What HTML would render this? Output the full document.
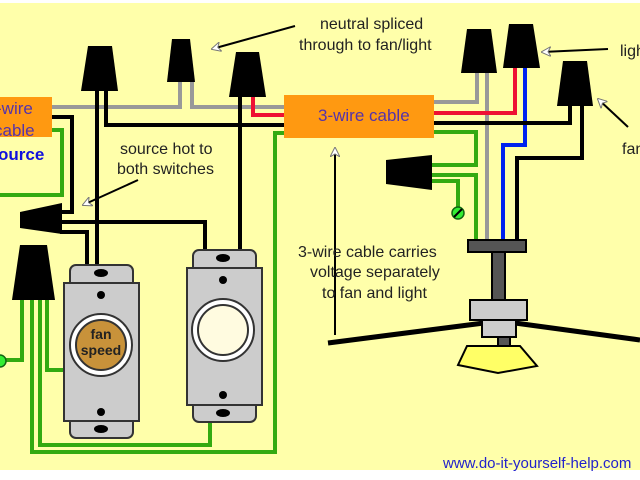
<!DOCTYPE html>
<html><head><style>
html,body{margin:0;padding:0;background:#fff;}
svg{display:block;}
text{font-family:"Liberation Sans",sans-serif;}
</style></head><body>
<svg width="640" height="480" viewBox="0 0 640 480" xmlns="http://www.w3.org/2000/svg">
<defs>
<marker id="ah" viewBox="0 0 10 10" refX="9" refY="5" markerWidth="5" markerHeight="5" orient="auto">
<path d="M10,5 L0,0 L3,5 L0,10 Z" fill="#fff" stroke="#777" stroke-width="1"/>
</marker>
</defs>
<rect x="0" y="3" width="640" height="467" fill="#ffffaa"/>
<g fill="none" stroke-width="4" stroke-linejoin="miter">
<polyline points="52,130 62,130 62,195 0,195" stroke="#33aa11"/>
<polyline points="22,300 22,360 0,360" stroke="#33aa11"/>
<polyline points="32,300 32,452 275,452 275,133 285,133" stroke="#33aa11"/>
<polyline points="40,300 40,445 210,445 210,422" stroke="#33aa11"/>
<polyline points="47,300 47,370 64,370" stroke="#33aa11"/>
<polyline points="52,107 180,107 180,82" stroke="#999"/>
<polyline points="192,82 192,107 285,107" stroke="#999"/>
<polyline points="253,97 253,115 285,115" stroke="#ee1133"/>
<polyline points="52,117 72,117 72,212 60,212" stroke="#000"/>
<polyline points="106,90 106,125 285,125" stroke="#000"/>
<polyline points="97,90 97,265" stroke="#000"/>
<polyline points="240,96 240,250" stroke="#000"/>
<polyline points="60,222 205,222 205,250" stroke="#000"/>
<polyline points="60,232 87,232 87,265" stroke="#000"/>
<polyline points="434,102 477,102 477,72" stroke="#999"/>
<polyline points="487,72 487,240" stroke="#999"/>
<polyline points="434,113 515,113 515,68" stroke="#ee1133"/>
<polyline points="525,68 525,145 503,145 503,240" stroke="#0022ee"/>
<polyline points="434,123 570,123 570,105" stroke="#000"/>
<polyline points="582,105 582,158 517,158 517,240" stroke="#000"/>
<polyline points="434,132 476,132 476,165 432,165" stroke="#33aa11"/>
<polyline points="432,175 476,175 476,240" stroke="#33aa11"/>
<polyline points="432,181 458,181 458,210" stroke="#33aa11"/>
</g>
<circle cx="458" cy="213" r="6" fill="#33ee33" stroke="#116611" stroke-width="1.5"/>
<line x1="454" y1="217" x2="462" y2="209" stroke="#000" stroke-width="2"/>
<circle cx="0" cy="361" r="6" fill="#33ee33" stroke="#116611" stroke-width="1.5"/>
<g fill="#000">
<polygon points="88,46 112,46 118,91 81,91"/>
<polygon points="172,39 190,39 195,82 167,82"/>
<polygon points="236,52 259,52 266,97 229,97"/>
<polygon points="467,29 491,29 497,73 461,73"/>
<polygon points="509,24 533,24 540,68 503,68"/>
<polygon points="563,61 587,61 593,106 557,106"/>
<polygon points="20,212 62,203 62,234 20,228"/>
<polygon points="20,245 47,245 55,300 12,300"/>
<polygon points="386,160 432,155 432,190 386,184"/>
</g>
<rect x="-2" y="97" width="54" height="40" fill="#ff9911"/>
<text x="-4" y="114" font-size="17" fill="#5533aa">-wire</text>
<text x="-6" y="136" font-size="17" fill="#5533aa">cable</text>
<text x="-2" y="160" font-size="17" font-weight="bold" fill="#1111dd">ource</text>
<rect x="284" y="95" width="150" height="43" fill="#ff9911"/>
<text x="318" y="121" font-size="17" fill="#5533aa">3-wire cable</text>
<g stroke="#333" stroke-width="2">
<rect x="70" y="265" width="63" height="24" rx="6" fill="#ccc"/>
<rect x="70" y="414" width="63" height="24" rx="6" fill="#ccc"/>
<rect x="64" y="283" width="75" height="138" fill="#ccc"/>
<circle cx="101" cy="345" r="31" fill="#fff"/>
<circle cx="101" cy="345" r="25" fill="#c8923a"/>
<rect x="193" y="250" width="63" height="24" rx="6" fill="#ccc"/>
<rect x="193" y="398" width="63" height="24" rx="6" fill="#ccc"/>
<rect x="187" y="268" width="75" height="137" fill="#ccc"/>
<circle cx="223" cy="330" r="31" fill="#fff"/>
<circle cx="223" cy="330" r="25" fill="#fffbe0"/>
</g>
<g fill="#000">
<ellipse cx="101" cy="273" rx="7" ry="4"/><circle cx="101" cy="295" r="4"/>
<circle cx="101" cy="412" r="4"/><ellipse cx="101" cy="429" rx="7" ry="4"/>
<ellipse cx="223" cy="258" rx="7" ry="4"/><circle cx="223" cy="280" r="4"/>
<circle cx="223" cy="395" r="4"/><ellipse cx="223" cy="413" rx="7" ry="4"/>
</g>
<text x="101" y="339" font-size="14" font-weight="bold" text-anchor="middle" fill="#222">fan</text>
<text x="101" y="355" font-size="14" font-weight="bold" text-anchor="middle" fill="#222">speed</text>
<line x1="328" y1="343" x2="484" y2="323" stroke="#000" stroke-width="5"/>
<line x1="515" y1="323" x2="640" y2="340" stroke="#000" stroke-width="5"/>
<g stroke="#000" stroke-width="2">
<rect x="468" y="240" width="58" height="12" fill="#555"/>
<rect x="492" y="252" width="13" height="48" fill="#555"/>
<rect x="498" y="336" width="12" height="10" fill="#555"/>
<rect x="470" y="300" width="57" height="20" fill="#ccc"/>
<rect x="482" y="320" width="34" height="17" fill="#ccc"/>
<polygon points="467,346 520,346 537,366 498,373 458,365" fill="#ffff66"/>
</g>
<g stroke="#000" stroke-width="2" fill="none" marker-end="url(#ah)">
<line x1="295" y1="26" x2="212" y2="49"/>
<line x1="138" y1="180" x2="83" y2="205"/>
<line x1="608" y1="49" x2="542" y2="52"/>
<line x1="628" y1="127" x2="598" y2="99"/>
<line x1="335" y1="335" x2="335" y2="148"/>
</g>
<g font-size="16" fill="#222">
<text x="320" y="29">neutral spliced</text>
<text x="299" y="50">through to fan/light</text>
<text x="120" y="154">source hot to</text>
<text x="117" y="174">both switches</text>
<text x="620" y="56">light</text>
<text x="622" y="154">fan</text>
<text x="298" y="257">3-wire cable carries</text>
<text x="310" y="277">voltage separately</text>
<text x="322" y="298">to fan and light</text>
</g>
<text x="443" y="468" font-size="15" fill="#2222cc">www.do-it-yourself-help.com</text>
</svg>
</body></html>
